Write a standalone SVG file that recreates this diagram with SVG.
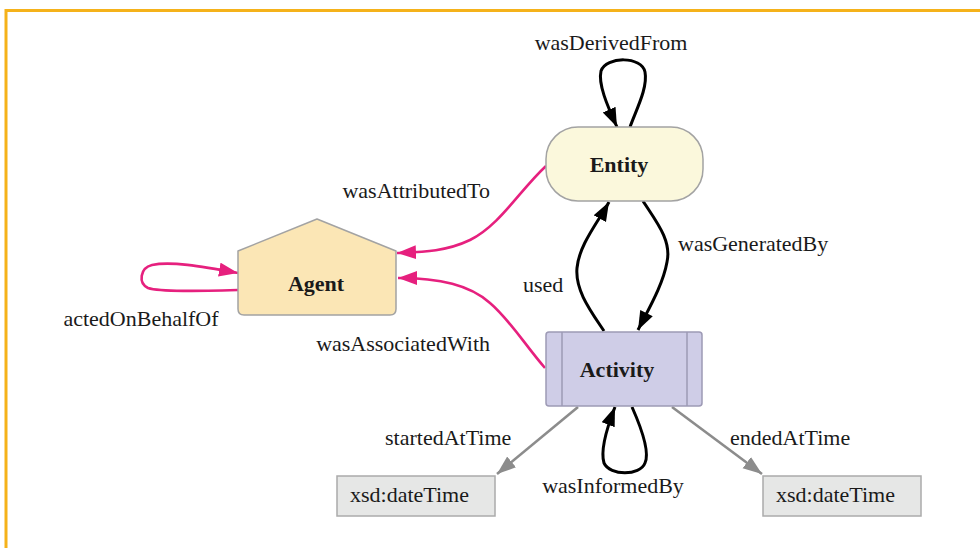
<svg xmlns="http://www.w3.org/2000/svg" width="980" height="548" viewBox="0 0 980 548">
<defs>
<style>
text{font-family:'Liberation Serif','Times New Roman','DejaVu Serif',serif}
.lbl{font-size:22px;fill:#1a1a1a}
.nodeTxt{font-size:22px;font-weight:bold;fill:#1a1a1a}
.blk{fill:none;stroke:#000;stroke-width:3}
.mag{fill:none;stroke:#e6207e;stroke-width:2.6}
.gry{fill:none;stroke:#8c8c8c;stroke-width:2.6}
</style>
<marker id="aBlk" markerUnits="userSpaceOnUse" markerWidth="22" markerHeight="16" refX="19" refY="7" orient="auto">
<path d="M0,0 L19,7 L0,14 z" fill="#000"/>
</marker>
<marker id="aMag" markerUnits="userSpaceOnUse" markerWidth="22" markerHeight="16" refX="19" refY="7" orient="auto">
<path d="M0,0 L19,7 L0,14 z" fill="#e6207e"/>
</marker>
<marker id="aGry" markerUnits="userSpaceOnUse" markerWidth="22" markerHeight="16" refX="19" refY="7" orient="auto">
<path d="M0,0 L19,7 L0,14 z" fill="#8c8c8c"/>
</marker>
</defs>
<rect x="0" y="0" width="980" height="548" fill="#ffffff"/>
<g id="frame">
<path d="M6,548 L6,10.5 L980,10.5" fill="none" stroke="#f5b21a" stroke-width="3"/>
</g>
<g id="connectors">
<path class="blk" d="M630,127 C636,110 648,88 645,72 C642,56 606,56 601,71 C598,84 607,105 617,127" marker-end="url(#aBlk)"/>
<path class="mag" d="M546,166 C520,190 500,225 470,240 C445,252 420,252 397,253" marker-end="url(#aMag)"/>
<path class="mag" d="M545,368 C525,345 510,320 490,303 C470,285 440,278 398,278" marker-end="url(#aMag)"/>
<path class="mag" d="M238,290 C200,291 160,292 148,288 C138,283 140,268 152,265 C170,261 200,266 238,273" marker-end="url(#aMag)"/>
<path class="blk" d="M604,331 C590,310 575,290 577,268 C579,245 598,222 609,202" marker-end="url(#aBlk)"/>
<path class="blk" d="M643,201 C655,220 672,240 667,262 C663,285 648,310 638,330" marker-end="url(#aBlk)"/>
<path class="gry" d="M578,407 L497,474" marker-end="url(#aGry)"/>
<path class="gry" d="M672,407 L762,474" marker-end="url(#aGry)"/>
<path class="blk" d="M632,407 C640,425 650,452 645,463 C640,476 610,476 604,463 C600,450 608,425 615,407" marker-end="url(#aBlk)"/>
<text class="lbl" x="611" y="50" text-anchor="middle">wasDerivedFrom</text>
<text class="lbl" x="490" y="198" text-anchor="end">wasAttributedTo</text>
<text class="lbl" x="490" y="351" text-anchor="end">wasAssociatedWith</text>
<text class="lbl" x="141" y="326" text-anchor="middle">actedOnBehalfOf</text>
<text class="lbl" x="523" y="292">used</text>
<text class="lbl" x="678" y="251">wasGeneratedBy</text>
<text class="lbl" x="385" y="445">startedAtTime</text>
<text class="lbl" x="730" y="445">endedAtTime</text>
<text class="lbl" x="613" y="493" text-anchor="middle">wasInformedBy</text>
</g>
<g id="entity">
<rect x="546" y="127" width="157" height="74" rx="32" ry="32" fill="#fbf8dc" stroke="#a3a3a3" stroke-width="1.5"/>
<text class="nodeTxt" x="619" y="172" text-anchor="middle">Entity</text>
</g>
<g id="agent">
<path d="M317,219 L396,251 L396,309 Q396,315 390,315 L244,315 Q238,315 238,309 L238,251 Z" fill="#fbe6b5" stroke="#a3a3a3" stroke-width="1.5" stroke-linejoin="round"/>
<text class="nodeTxt" x="316" y="291" text-anchor="middle">Agent</text>
</g>
<g id="activity">
<rect x="546" y="332" width="156" height="74" rx="3" fill="#cfcde7" stroke="#9d9ab5" stroke-width="1.5"/>
<line x1="562" y1="332" x2="562" y2="406" stroke="#9d9ab5" stroke-width="1.5"/>
<line x1="687" y1="332" x2="687" y2="406" stroke="#9d9ab5" stroke-width="1.5"/>
<text class="nodeTxt" x="617" y="377" text-anchor="middle">Activity</text>
</g>
<g id="startTime">
<rect x="337" y="476" width="158" height="40" fill="#e6e7e6" stroke="#ababab" stroke-width="1.5"/>
<text class="lbl" x="350" y="502">xsd:dateTime</text>
</g>
<g id="endTime">
<rect x="763" y="476" width="158" height="40" fill="#e6e7e6" stroke="#ababab" stroke-width="1.5"/>
<text class="lbl" x="776" y="502">xsd:dateTime</text>
</g>
</svg>
